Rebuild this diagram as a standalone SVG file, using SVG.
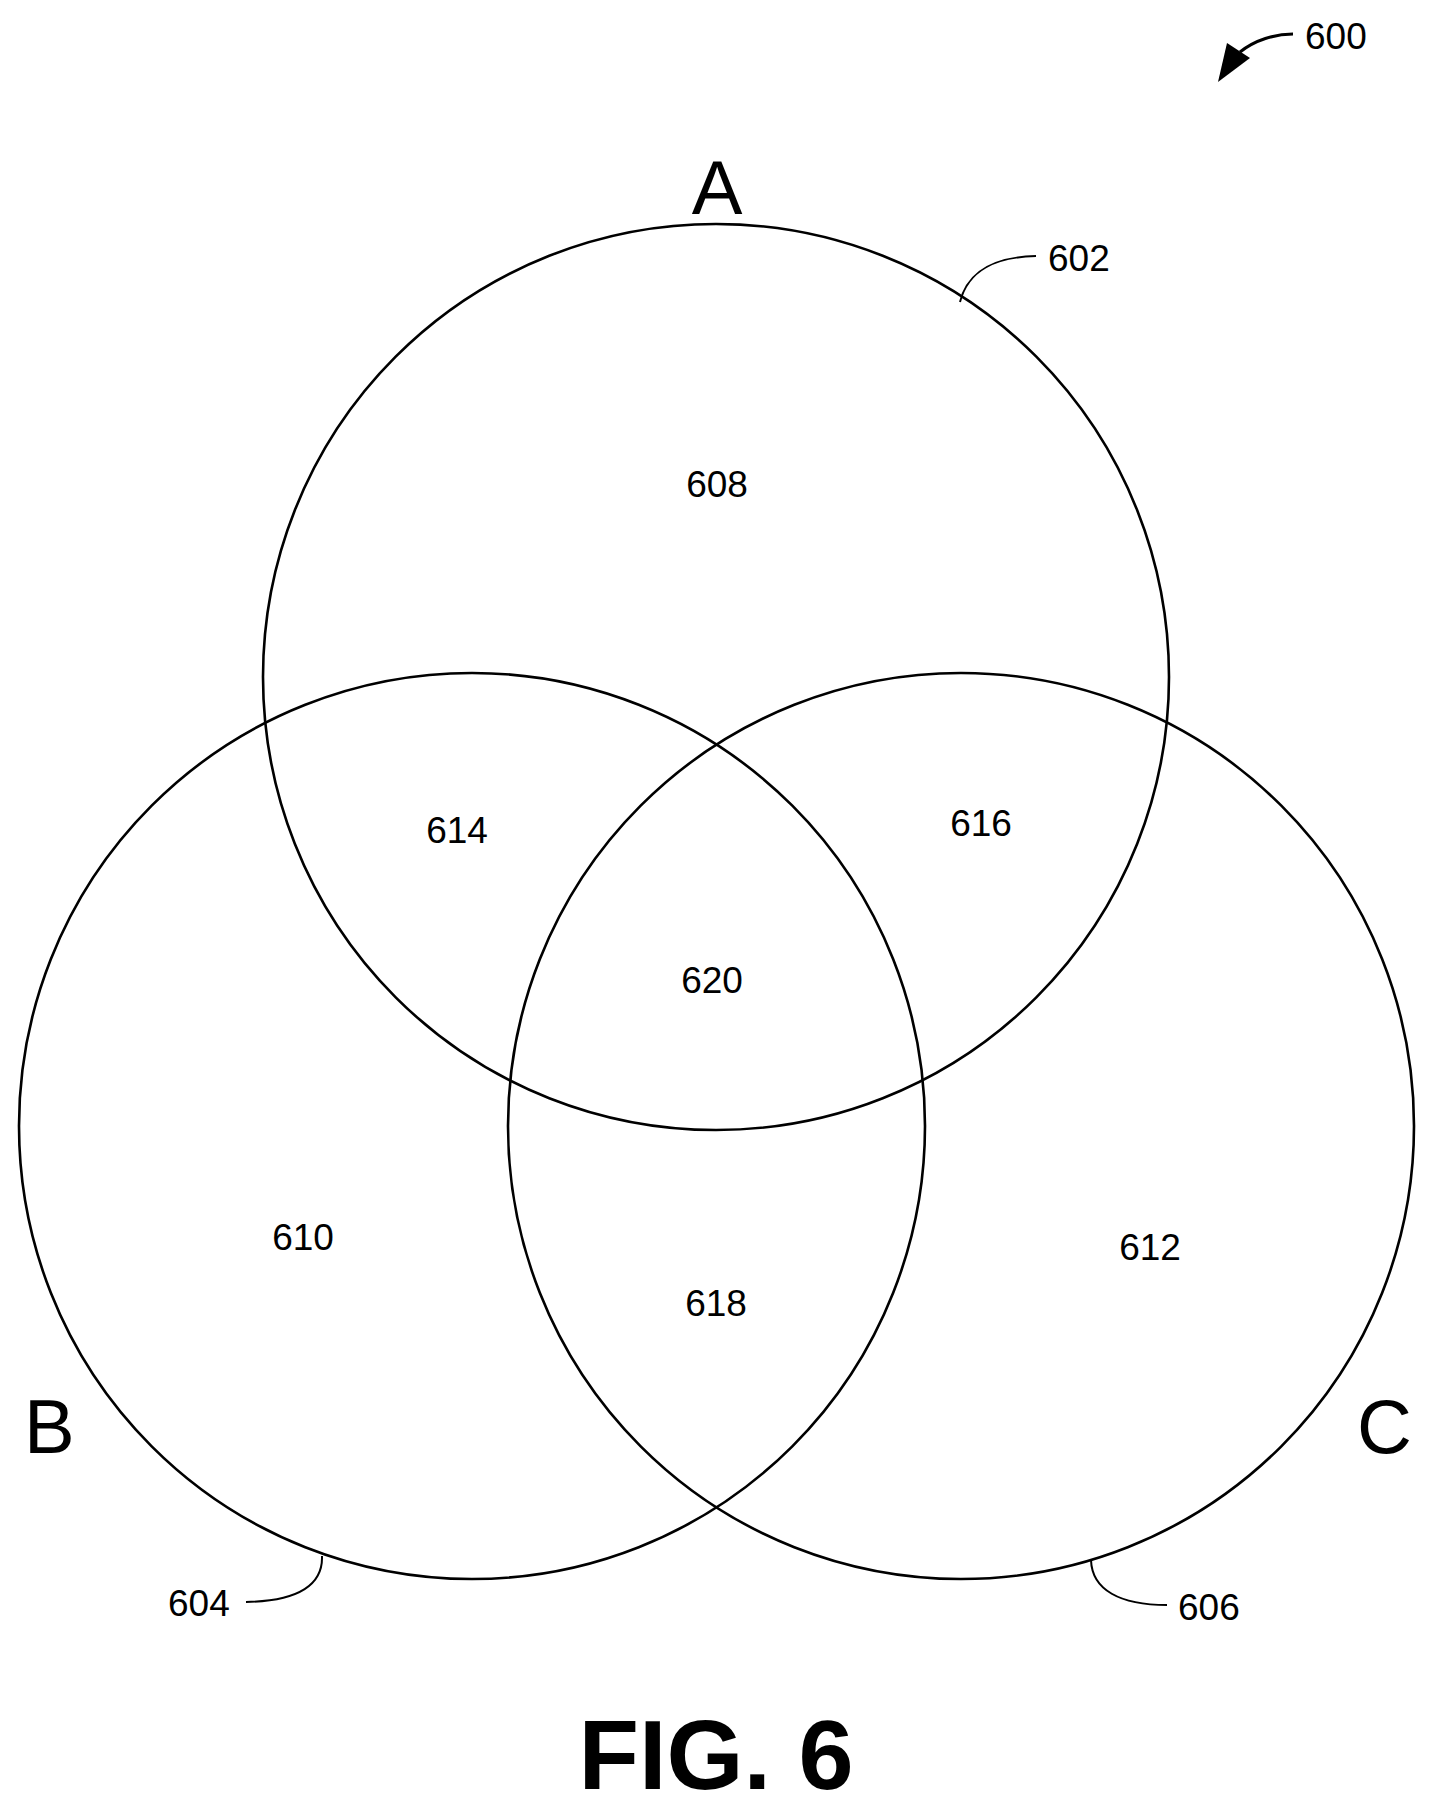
<svg xmlns="http://www.w3.org/2000/svg" width="1432" height="1820" viewBox="0 0 1432 1820">
<style>
.c{fill:none;stroke:#000;stroke-width:2.6}
.l{fill:none;stroke:#000;stroke-width:2}
.n{font-family:"Liberation Sans",Arial,sans-serif;font-size:37px;fill:#000}
.m{text-anchor:middle}
.big{font-family:"Liberation Sans",Arial,sans-serif;font-size:76px;fill:#000}
</style>
<rect width="1432" height="1820" fill="#fff"/>
<g id="circleA"><circle class="c" cx="716" cy="677" r="453"/><text class="big m" x="717" y="214">A</text><text class="n m" x="717" y="497">608</text></g>
<g id="circleB"><circle class="c" cx="472" cy="1126" r="453"/><text class="big" x="24" y="1453">B</text><text class="n m" x="303" y="1250">610</text></g>
<g id="circleC"><circle class="c" cx="961" cy="1126" r="453"/><text class="big" x="1357" y="1453">C</text><text class="n m" x="1150" y="1260">612</text></g>
<g id="regions">
<text class="n m" x="457" y="843">614</text>
<text class="n m" x="981" y="836">616</text>
<text class="n m" x="712" y="993">620</text>
<text class="n m" x="716" y="1316">618</text>
</g>
<g id="connectors">
<path class="l" d="M960,302 C968,270 995,257 1036,256"/>
<path class="l" d="M322,1556 C323,1584 300,1601 246,1602"/>
<path class="l" d="M1091,1560 C1092,1590 1120,1605 1167,1605"/>
<path fill="none" stroke="#000" stroke-width="3" d="M1293,34 C1275,34 1255,40 1240,52"/>
<polygon points="1218,82 1227,43 1250,58" fill="#000"/>
</g>
<g id="refs">
<text class="n" x="1048" y="271">602</text>
<text class="n" x="168" y="1616">604</text>
<text class="n" x="1178" y="1620">606</text>
<text class="n" x="1305" y="49">600</text>
</g>
<text x="716" y="1789" text-anchor="middle" font-family="Liberation Sans,Arial,sans-serif" font-weight="bold" font-size="99">FIG. 6</text>
</svg>
